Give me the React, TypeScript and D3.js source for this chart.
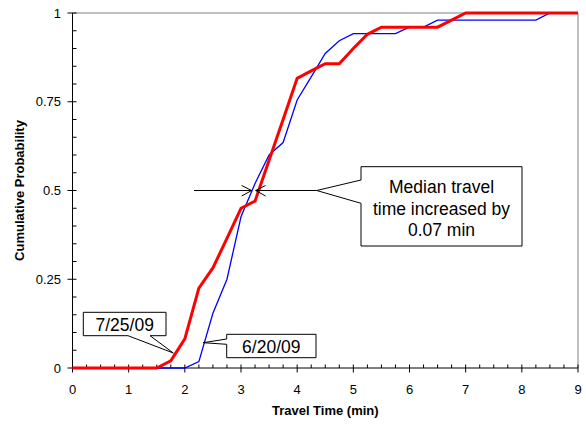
import React, { useRef, useEffect } from 'react';
import * as d3 from 'd3';

// travel time bins (min)
const times = [
  0, 0.25, 0.5, 0.75, 1, 1.25, 1.5, 1.75, 2, 2.25, 2.5, 2.75, 3, 3.25, 3.5, 3.75,
  4, 4.25, 4.5, 4.75, 5, 5.25, 5.5, 5.75, 6, 6.25, 6.5, 6.75, 7, 7.25, 7.5, 7.75,
  8, 8.25, 8.5, 8.75, 9,
];

// 6/20/09 (blue)
const june = [
  0, 0, 0, 0, 0, 0, 0, 0, 0, 0.018, 0.154, 0.25, 0.426, 0.52, 0.6, 0.635,
  0.755, 0.82, 0.886, 0.922, 0.942, 0.942, 0.942, 0.942, 0.96, 0.96, 0.98, 0.98, 0.98, 0.98, 0.98, 0.98,
  0.98, 0.98, 1, 1, 1,
];

// 7/25/09 (red)
const july = [
  0, 0, 0, 0, 0, 0, 0, 0.02, 0.082, 0.225, 0.282, 0.365, 0.45, 0.47, 0.585, 0.7,
  0.816, 0.837, 0.857, 0.857, 0.9, 0.94, 0.96, 0.96, 0.96, 0.96, 0.96, 0.98, 1, 1, 1, 1,
  1, 1, 1, 1, 1,
];

const xTicks = [0, 1, 2, 3, 4, 5, 6, 7, 8, 9];
const yTicks = [0, 0.25, 0.5, 0.75, 1];
const yTickLabels = ['0', '0.25', '0.5', '0.75', '1'];
const yMinor = [0.05, 0.1, 0.15, 0.2, 0.3, 0.35, 0.4, 0.45, 0.55, 0.6, 0.65, 0.7, 0.8, 0.85, 0.9, 0.95];

const medianJune = 3.19;
const medianJuly = 3.26;
const medianText = ['Median travel', 'time increased by', '0.07 min'];

const FONT = '"Liberation Sans", Arial, sans-serif';

function App() {
  const svgRef = useRef<SVGSVGElement>(null);

  useEffect(() => {
    const svg = d3.select(svgRef.current);
    svg.selectAll('*').remove();

    const w = 586;
    const h = 424;
    const left = 72.5, right = 578, top = 13, bottom = 368;

    const x = d3.scaleLinear().domain([0, 9]).range([left, right]);
    const y = d3.scaleLinear().domain([0, 1]).range([bottom, top]);

    svg.attr('width', w).attr('height', h);

    // plot area border (top + right, gray)
    svg.append('path')
      .attr('d', `M${left},${top}H${right}V${bottom}`)
      .attr('fill', 'none')
      .attr('stroke', '#808080')
      .attr('stroke-width', 1);

    // y axis
    svg.append('line')
      .attr('x1', left).attr('x2', left).attr('y1', top).attr('y2', bottom)
      .attr('stroke', '#000');
    svg.selectAll()
      .data(yTicks)
      .join('line')
      .attr('x1', left - 5).attr('x2', left + 4)
      .attr('y1', d => y(d)).attr('y2', d => y(d))
      .attr('stroke', '#000');
    svg.selectAll()
      .data(yMinor)
      .join('line')
      .attr('x1', left).attr('x2', left + 4)
      .attr('y1', d => y(d)).attr('y2', d => y(d))
      .attr('stroke', '#000');
    svg.selectAll()
      .data(yTicks)
      .join('text')
      .text((d, i) => yTickLabels[i])
      .attr('x', 61)
      .attr('y', d => y(d) + 4.5)
      .attr('text-anchor', 'end')
      .style('font', `13px ${FONT}`);

    // x axis
    svg.append('line')
      .attr('x1', left).attr('x2', right).attr('y1', bottom).attr('y2', bottom)
      .attr('stroke', '#000');
    svg.selectAll()
      .data(times.filter(t => !xTicks.includes(t)))
      .join('line')
      .attr('x1', d => x(d)).attr('x2', d => x(d))
      .attr('y1', bottom - 3.5).attr('y2', bottom)
      .attr('stroke', '#000');
    svg.selectAll()
      .data(xTicks)
      .join('line')
      .attr('x1', d => x(d)).attr('x2', d => x(d))
      .attr('y1', bottom - 3.5).attr('y2', bottom + 4.5)
      .attr('stroke', '#000');
    svg.selectAll()
      .data(xTicks)
      .join('text')
      .text(d => d)
      .attr('x', d => x(d))
      .attr('y', 394)
      .attr('text-anchor', 'middle')
      .style('font', `13px ${FONT}`);

    // axis titles
    svg.append('text')
      .text('Travel Time (min)')
      .attr('x', (left + right) / 2)
      .attr('y', 415)
      .attr('text-anchor', 'middle')
      .style('font', `bold 13px ${FONT}`);
    svg.append('text')
      .text('Cumulative Probability')
      .attr('transform', `translate(24,${(top + bottom) / 2}) rotate(-90)`)
      .attr('text-anchor', 'middle')
      .style('font', `bold 13px ${FONT}`);

    // series
    const line = d3.line<number>()
      .x((d, i) => x(times[i]))
      .y(d => y(d));

    svg.append('path')
      .attr('d', line(june))
      .attr('fill', 'none')
      .attr('stroke', '#0000ff')
      .attr('stroke-width', 1.3);
    svg.append('path')
      .attr('d', line(july))
      .attr('fill', 'none')
      .attr('stroke', '#ff0000')
      .attr('stroke-width', 3)
      .attr('stroke-linejoin', 'miter');

    // median arrows
    const ym = y(0.5);
    const tipL = x(medianJune);
    const tipR = x(medianJuly);
    const ann = svg.append('g').attr('stroke', '#000').attr('fill', 'none').attr('stroke-width', 1);
    ann.append('path').attr('d', `M194,${ym}H${tipL}M${tipL - 10},${ym - 5}L${tipL},${ym}L${tipL - 10},${ym + 5.5}`);
    ann.append('path').attr('d', `M316.7,${ym}H${tipR}M${tipR + 10},${ym - 5}L${tipR},${ym}L${tipR + 10},${ym + 5.5}`);

    // callouts
    const callouts = [
      { d: `M361,166.7H522V246H361V203.3L316.7,${ym}L361,180Z` },
      { d: 'M83.3,312.3H166V335.7H150L173.3,353L128,335.7H83.3Z' },
      { d: 'M226.7,334.3H316V357.7H226.7V344.3L203.3,342.7L226.7,339Z' },
    ];
    svg.selectAll()
      .data(callouts)
      .join('path')
      .attr('d', d => d.d)
      .attr('fill', '#fff')
      .attr('stroke', '#000')
      .attr('stroke-width', 1);

    svg.selectAll()
      .data(medianText)
      .join('text')
      .text(d => d)
      .attr('x', 441.5)
      .attr('y', (d, i) => 193 + i * 21.5)
      .attr('text-anchor', 'middle')
      .style('font', `17.5px ${FONT}`);

    svg.append('text')
      .text('7/25/09')
      .attr('x', 124.7)
      .attr('y', 330.5)
      .attr('text-anchor', 'middle')
      .style('font', `17.5px ${FONT}`);
    svg.append('text')
      .text('6/20/09')
      .attr('x', 271.3)
      .attr('y', 352.5)
      .attr('text-anchor', 'middle')
      .style('font', `17.5px ${FONT}`);
  }, []);

  return (
    <div style={{ position: 'absolute', left: 0, top: 0 }}>
      <svg ref={svgRef} style={{ display: 'block' }} />
    </div>
  );
}

export default App;
